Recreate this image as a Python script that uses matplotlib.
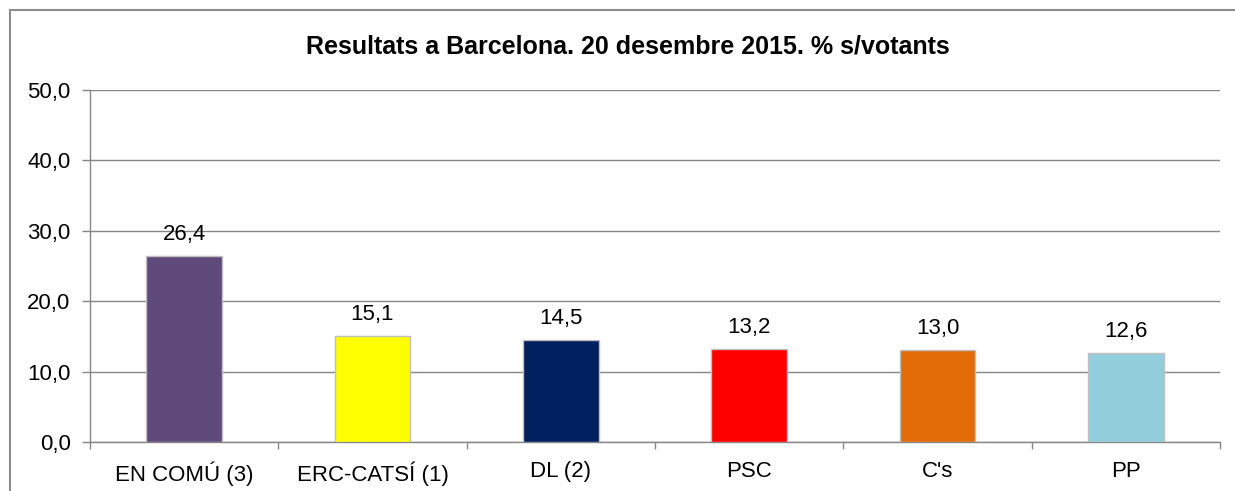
import matplotlib
matplotlib.use("Agg")
import matplotlib.pyplot as plt
from matplotlib.patches import Rectangle

categories = ["EN COMÚ (3)", "ERC-CATSÍ (1)", "DL (2)", "PSC", "C's", "PP"]
values = [26.4, 15.1, 14.5, 13.2, 13.0, 12.6]
colors = ["#604A7B", "#FFFF00", "#002060", "#FF0000", "#E36C09", "#92CDDC"]
yticks = [0, 10, 20, 30, 40, 50]
title = "Resultats a Barcelona. 20 desembre 2015. % s/votants"

plt.rcParams['font.family'] = ['Liberation Sans', 'DejaVu Sans']

fig = plt.figure(figsize=(12.35, 4.91), dpi=100)
W, H = 1235, 491
ax = fig.add_axes([90 / W, 1 - 442 / H, (1220 - 90) / W, (442 - 90) / H])

# outer chart border
fig.patches.append(Rectangle((10 / W, -0.1), 1.2, 1 - 10 / H + 0.1, transform=fig.transFigure,
                             fill=False, edgecolor="#8C8C8C", linewidth=1.5, zorder=0))

x = list(range(len(categories)))
bars = ax.bar(x, values, width=0.4, color=colors, edgecolor="#BFBFBF", linewidth=1.0, zorder=3)

for xi, v in zip(x, values):
    ax.text(xi, v + 2.3, f"{v:.1f}".replace(".", ","), ha="center", va="baseline", fontsize=16, color="black")

ax.set_xlim(-0.5, len(categories) - 0.5)
ax.set_ylim(0, 50)
ax.set_yticks(yticks)
ax.set_yticklabels([f"{t:.1f}".replace(".", ",") for t in yticks], fontsize=16)
ax.set_xticks(x)
ax.set_xticklabels(categories, fontsize=16)
ax.tick_params(axis="x", length=0, pad=14)
ax.set_xticks([i - 0.5 for i in range(len(categories) + 1)], minor=True)
ax.tick_params(axis="x", which="minor", length=5, color="#868686", width=1)
ax.tick_params(axis="y", length=6, color="#868686", width=1, pad=8)

ax.yaxis.grid(True, color="#868686", linewidth=1)
ax.set_axisbelow(True)
for s in ["top", "right"]:
    ax.spines[s].set_visible(False)
for s in ["left", "bottom"]:
    ax.spines[s].set_color("#868686")
    ax.spines[s].set_linewidth(1)

fig.text(628 / W, 1 - 47 / H, title, ha="center", va="center", fontsize=18, fontweight="bold")

fig.savefig("out.png", dpi=100)
